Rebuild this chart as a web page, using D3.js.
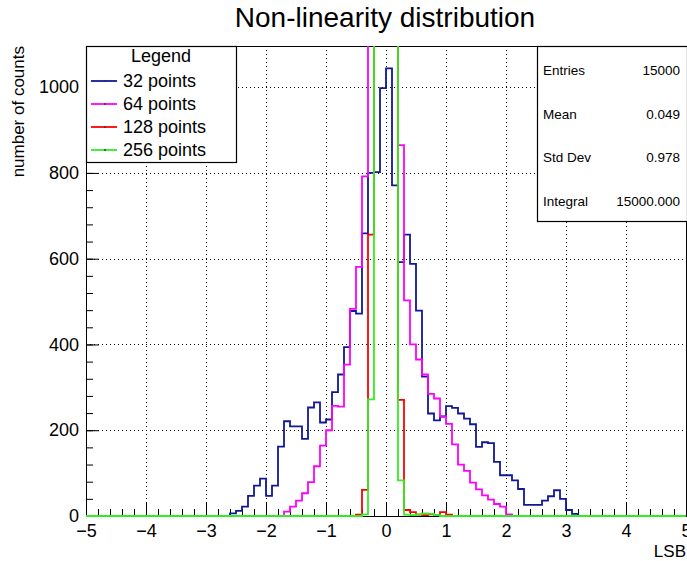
<!DOCTYPE html>
<html>
<head>
<meta charset="utf-8">
<script src="https://cdn.jsdelivr.net/npm/d3@7"></script>
<style>
  html, body { margin: 0; padding: 0; background: #fff; }
  svg { display: block; font-family: "Liberation Sans", Arial, Helvetica, sans-serif; }
</style>
</head>
<body>
<svg id="chart" width="687" height="561"></svg>
<script>
// histogram binning: 100 bins of 0.1 LSB from -5 to 5
const binLow = -5;
const binWidth = 0.1;
const nBins = 100;

const seriesNames = ["32 points", "64 points", "128 points", "256 points"];
const seriesColors = ["#10189a", "#ff00ff", "#ff0000", "#33ee22"];
// low edge of the first non-empty bin of each series
const seriesStart = [-2.6, -1.7, -0.5, -0.4];

const counts32 = [
  6, 12, 22, 47, 71, 87, 47, 71, 162, 221,
  209, 209, 180, 253, 265, 218, 225, 289, 330, 394,
  478, 472, 659, 800, 802, 998, 1044, 771, 592, 656,
  588, 479, 325, 239, 223, 232, 256, 252, 239, 227,
  214, 161, 172, 170, 126, 95, 95, 83, 63, 26,
  26, 26, 36, 46, 60, 40, 14, 5
];
const counts64 = [
  10, 22, 36, 53, 79, 116, 164, 200, 257, 255,
  353, 483, 581, 792, 1450, 1520, 1490, 1530, 1460, 865,
  503, 400, 365, 330, 285, 274, 232, 215, 167, 120,
  105, 78, 62, 48, 38, 28, 22, 4
];
const counts128 = [
  3, 61, 656, 3480, 3510, 3470, 3490, 271, 14, 9,
  3, 2, 4, 2, 9, 3
];
const counts256 = [
  4, 272, 3640, 3670, 3660, 3650, 83, 3, 2, 4,
  6, 5, 2
];

const xTicks = [-5, -4, -3, -2, -1, 0, 1, 2, 3, 4, 5];
const yTicks = [0, 200, 400, 600, 800, 1000];
const yMax = 1096;

const statsLabels = ["Entries", "Mean", "Std Dev", "Integral"];
const statsValues = ["15000", "0.049", "0.978", "15000.000"];

const d3 = window.d3;
const svg = d3.select("#chart");

const frame = { left: 86, top: 46, right: 686, bottom: 516 };

const x = d3.scaleLinear().domain([binLow, binLow + nBins * binWidth]).range([frame.left, frame.right]);
const y = d3.scaleLinear().domain([0, yMax]).range([frame.bottom, frame.top]);

// title
svg.append("text")
  .attr("x", 385).attr("y", 27)
  .attr("text-anchor", "middle")
  .attr("font-size", 28)
  .text("Non-linearity distribution");

// grid
const grid = svg.append("g")
  .attr("stroke", "#000")
  .attr("stroke-width", 1)
  .attr("stroke-dasharray", "1,3");
grid.selectAll("line.gx")
  .data(xTicks.slice(1, -1))
  .enter().append("line")
  .attr("x1", d => Math.round(x(d)) + 0.5).attr("x2", d => Math.round(x(d)) + 0.5)
  .attr("y1", frame.top).attr("y2", frame.bottom);
grid.selectAll("line.gy")
  .data(yTicks.slice(1))
  .enter().append("line")
  .attr("y1", d => Math.round(y(d)) + 0.5).attr("y2", d => Math.round(y(d)) + 0.5)
  .attr("x1", frame.left).attr("x2", frame.right);

// frame (drawn under the histograms, as ROOT does)
svg.append("rect")
  .attr("x", frame.left + 0.5).attr("y", frame.top + 0.5)
  .attr("width", frame.right - frame.left).attr("height", frame.bottom - frame.top)
  .attr("fill", "none").attr("stroke", "#000").attr("stroke-width", 1);

// axes, ROOT style: ticks point into the frame
const minorX = d3.range(0, 51).map(i => binLow + i * 0.2);
const minorY = d3.range(0, 28).map(i => i * 40);

svg.append("g")
  .attr("transform", `translate(0,${frame.bottom})`)
  .call(d3.axisBottom(x).tickValues(minorX).tickSize(-7).tickFormat(""));
const gx = svg.append("g")
  .attr("transform", `translate(0,${frame.bottom})`)
  .call(d3.axisBottom(x).tickValues(xTicks).tickSize(-13).tickPadding(8).tickFormat(d3.format("d")));
gx.selectAll(".tick text").attr("font-size", 18).attr("fill", "#000");

svg.append("g")
  .attr("transform", `translate(${frame.left},0)`)
  .call(d3.axisLeft(y).tickValues(minorY).tickSize(-7).tickFormat(""));
const gy = svg.append("g")
  .attr("transform", `translate(${frame.left},0)`)
  .call(d3.axisLeft(y).tickValues(yTicks).tickSize(-13).tickPadding(7).tickFormat(d3.format("d")));
gy.selectAll(".tick text").attr("font-size", 18).attr("fill", "#000");

svg.selectAll(".domain").remove();
svg.selectAll(".tick line").attr("stroke", "#000");

// histograms
svg.append("clipPath").attr("id", "frameClip")
  .append("rect")
  .attr("x", frame.left).attr("y", frame.top)
  .attr("width", frame.right - frame.left + 1).attr("height", frame.bottom - frame.top + 2);

const allCounts = [counts32, counts64, counts128, counts256];

function fullBins(start, vals) {
  const out = new Array(nBins).fill(0);
  const first = Math.round((start - binLow) / binWidth);
  vals.forEach((v, i) => { out[first + i] = v; });
  return out;
}

const stepLine = d3.line()
  .x(d => x(d[0]))
  .y(d => y(d[1]))
  .curve(d3.curveStepAfter);

const gh = svg.append("g").attr("clip-path", "url(#frameClip)");
allCounts.forEach((vals, k) => {
  const bins = fullBins(seriesStart[k], vals);
  const pts = bins.map((c, i) => [binLow + i * binWidth, c]);
  pts.push([binLow + nBins * binWidth, bins[nBins - 1]]);
  gh.append("path")
    .attr("d", stepLine(pts))
    .attr("fill", "none")
    .attr("stroke", seriesColors[k])
    .attr("stroke-width", 1.8);
});

// axis titles
svg.append("text")
  .attr("x", frame.right).attr("y", 557)
  .attr("text-anchor", "end")
  .attr("font-size", 17)
  .text("LSB");

svg.append("text")
  .attr("transform", `translate(24,${frame.top}) rotate(-90)`)
  .attr("text-anchor", "end")
  .attr("font-size", 17)
  .text("number of counts");

// legend
const lg = svg.append("g");
lg.append("rect")
  .attr("x", 86.5).attr("y", 46.5).attr("width", 150).attr("height", 116)
  .attr("fill", "#fff").attr("stroke", "#000").attr("stroke-width", 1.2);
lg.append("text")
  .attr("x", 161).attr("y", 62)
  .attr("text-anchor", "middle")
  .attr("font-size", 18)
  .text("Legend");
seriesNames.forEach((name, k) => {
  const cy = 80 + k * 23;
  lg.append("line")
    .attr("x1", 91).attr("x2", 117).attr("y1", cy + 1).attr("y2", cy + 1)
    .attr("stroke", seriesColors[k]).attr("stroke-width", 1.8);
  lg.append("circle")
    .attr("cx", 105).attr("cy", cy + 1).attr("r", 0.9)
    .attr("fill", "#333");
  lg.append("text")
    .attr("x", 123).attr("y", cy + 6.5)
    .attr("font-size", 18)
    .text(name);
});

// stats box
const sb = svg.append("g");
sb.append("rect")
  .attr("x", 537.5).attr("y", 46.5).attr("width", 150).attr("height", 175)
  .attr("fill", "#fff").attr("stroke", "#000").attr("stroke-width", 1.2);
statsLabels.forEach((lab, i) => {
  const cy = 70 + i * 43.5;
  sb.append("text")
    .attr("x", 543).attr("y", cy + 5)
    .attr("font-size", 13.5)
    .text(lab);
  sb.append("text")
    .attr("x", 680).attr("y", cy + 5)
    .attr("text-anchor", "end")
    .attr("font-size", 13.5)
    .text(statsValues[i]);
});
</script>
</body>
</html>
